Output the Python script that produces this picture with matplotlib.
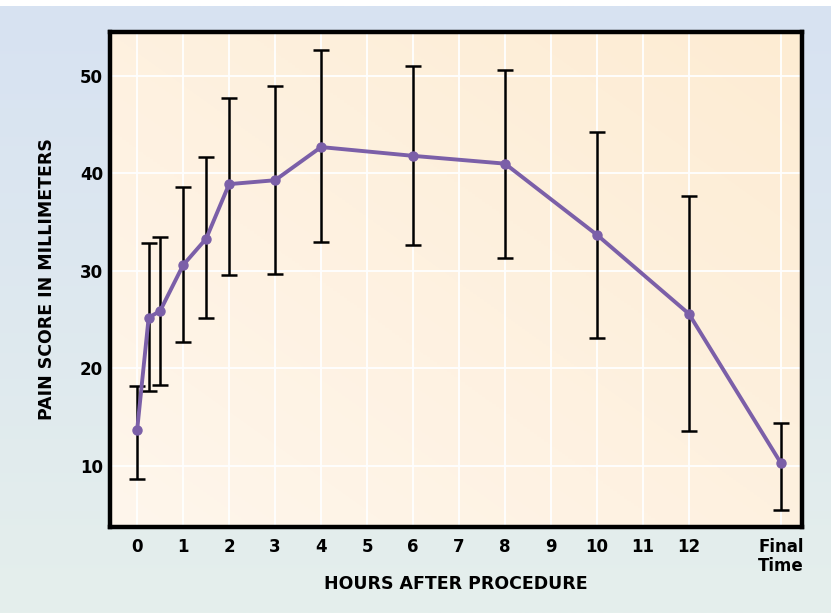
import numpy as np
import matplotlib.pyplot as plt
from matplotlib.colors import LinearSegmentedColormap

# hours after procedure ("Final Time" placed at 14)
hours = [0, 0.25, 0.5, 1, 1.5, 2, 3, 4, 6, 8, 10, 12, 14]
pain = [13.7, 25.2, 25.9, 30.6, 33.3, 38.9, 39.3, 42.7, 41.8, 41.0, 33.7, 25.6, 10.3]
upper = [18.2, 32.9, 33.5, 38.6, 41.7, 47.7, 49.0, 52.7, 51.0, 50.6, 44.2, 37.7, 14.4]
lower = [8.7, 17.7, 18.3, 22.7, 25.2, 29.6, 29.7, 33.0, 32.7, 31.3, 23.1, 13.6, 5.5]

tick_pos = [0, 1, 2, 3, 4, 5, 6, 7, 8, 9, 10, 11, 12, 14]
tick_lab = ['0', '1', '2', '3', '4', '5', '6', '7', '8', '9', '10', '11', '12', 'Final\nTime']

fig = plt.figure(figsize=(8.31, 6.13), dpi=100)

# figure background gradient (blue at top -> pale green at bottom)
bg = fig.add_axes([0, 0, 1, 0.99], zorder=-10)
bg_cmap = LinearSegmentedColormap.from_list('bg', ['#e5efec', '#d7e2f2'])
bg.imshow(np.linspace(0, 1, 256).reshape(-1, 1), aspect='auto', cmap=bg_cmap,
          origin='lower', extent=[0, 1, 0, 1])
bg.axis('off')

ax = fig.add_axes([0.1324, 0.1403, 0.8327, 0.8075])
xlo, xhi, ylo, yhi = -0.59, 14.46, 3.74, 54.5

# peach gradient inside the plot area
gx, gy = np.meshgrid(np.linspace(0, 1, 200), np.linspace(0, 1, 200))
ax_cmap = LinearSegmentedColormap.from_list('ax', ['#fff6ec', '#fdecd3'])
ax.imshow(0.5 * gx + 0.5 * gy, aspect='auto', cmap=ax_cmap, origin='lower',
          extent=[xlo, xhi, ylo, yhi], zorder=0)

for t in tick_pos:
    ax.axvline(t, color='white', lw=1.3, zorder=1)
for v in [10, 20, 30, 40, 50]:
    ax.axhline(v, color='white', lw=1.3, zorder=1)

yerr = [np.array(pain) - np.array(lower), np.array(upper) - np.array(pain)]
ax.errorbar(hours, pain, yerr=yerr, fmt='none', ecolor='black', elinewidth=1.8,
            capsize=6, capthick=1.8, zorder=3)
ax.plot(hours, pain, color='#7b5fa8', lw=2.8, marker='o', ms=6.5, zorder=4)

ax.set_xlim(xlo, xhi)
ax.set_ylim(ylo, yhi)
ax.set_xticks(tick_pos)
ax.set_xticklabels(tick_lab, fontsize=12, fontweight='bold', linespacing=1.05)
ax.set_yticks([10, 20, 30, 40, 50])
ax.set_yticklabels(['10', '20', '30', '40', '50'], fontsize=12, fontweight='bold')
ax.tick_params(length=0, pad=5)
ax.tick_params(axis='x', pad=8)
for s in ax.spines.values():
    s.set_linewidth(3.2)
    s.set_color('black')
ax.set_xlabel('HOURS AFTER PROCEDURE', fontsize=12.5, fontweight='bold', labelpad=0)
ax.set_ylabel('PAIN SCORE IN MILLIMETERS', fontsize=12.5, fontweight='bold', labelpad=17)

fig.savefig('out.png', dpi=100)
